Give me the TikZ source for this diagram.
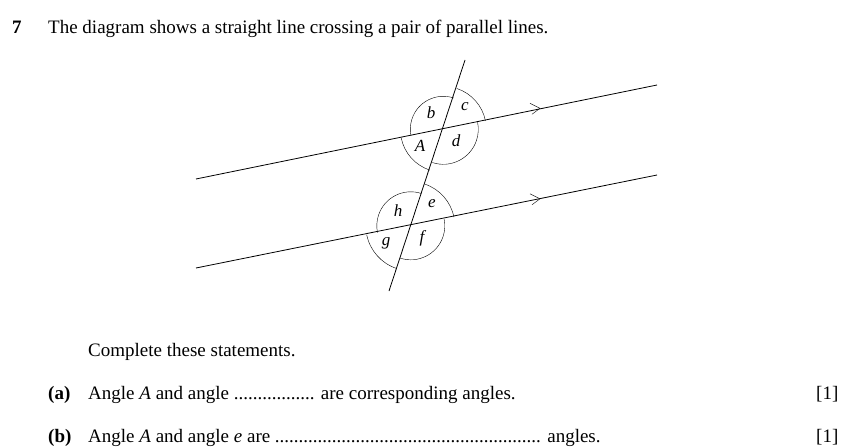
\documentclass[tikz,border=0pt]{standalone}
\usepackage{fontspec}
\setmainfont{Liberation Serif}
\begin{document}
\begin{tikzpicture}[x=1pt,y=-1pt,
	txt/.style={anchor=base west,inner sep=0pt,font=\fontsize{19}{21}\selectfont},
	lbl/.style={inner sep=0pt,font=\fontsize{17}{19}\selectfont\itshape}]
	\useasboundingbox (0,0) rectangle (853,447);
	%question text
	\node[txt] (num) at (12,33) {\textbf{7}};
	\node[txt] (q) at (48,33) {The diagram shows a straight line crossing a pair of parallel lines.};
	%parallel lines and transversal
	\coordinate (p1) at (196,179); \coordinate (p2) at (657,85);
	\coordinate (q1) at (196,268); \coordinate (q2) at (657,175);
	\coordinate (t1) at (465,60);  \coordinate (t2) at (389,291);
	\coordinate (X) at (443.3,129.3);	%upper crossing
	\coordinate (Y) at (410.8,225.8);	%lower crossing
	\draw[thick] (p1)--(p2);
	\draw[thick] (q1)--(q2);
	\draw[thick] (t1)--(t2);
	\draw (540,108.3) -- +(-10,-5) (540,108.3) -- +(-8,6);	%arrow upper
	\draw (540,198.8) -- +(-10,-5) (540,198.8) -- +(-8,6);	%arrow lower
	%angle arcs (y is flipped, so angles are negated)
	\draw (X) ++(-11.5:43) arc (-11.5:-71.8:43);	%c
	\draw (X) ++(-71.8:33) arc (-71.8:-191.5:33);	%b
	\draw (X) ++(-191.5:43) arc (-191.5:-251.8:43);	%A
	\draw (X) ++(-251.8:35) arc (-251.8:-371.5:35);	%d
	\draw (Y) ++(-11.5:44) arc (-11.5:-71.8:44);	%e
	\draw (Y) ++(-71.8:34) arc (-71.8:-191.5:34);	%h
	\draw (Y) ++(-191.5:45) arc (-191.5:-251.8:45);	%g
	\draw (Y) ++(-251.8:34) arc (-251.8:-371.5:34);	%f
	\node[lbl] (b) at (431,113) {b};
	\node[lbl] (c) at (465,107) {c};
	\node[lbl] (A) at (420,146) {A};
	\node[lbl] (d) at (456,141) {d};
	\node[lbl] (h) at (398,211) {h};
	\node[lbl] (e) at (432,204) {e};
	\node[lbl] (g) at (386,243) {g};
	\node[lbl] (f) at (422,238) {f};
	%statements
	\node[txt] (cs) at (88,356) {Complete these statements.};
	\node[txt] (a) at (48,399) {\textbf{(a)}};
	\node[txt] (at) at (88,399) {Angle \textit{A} and angle ................. are corresponding angles.};
	\node[txt] (am) at (816,399) {[1]};
	\node[txt] (bb) at (48,442) {\textbf{(b)}};
	\node[txt] (bt) at (88,442) {Angle \textit{A} and angle \textit{e} are ........................................................ angles.};
	\node[txt] (bm) at (816,442) {[1]};
\end{tikzpicture}
\end{document}
